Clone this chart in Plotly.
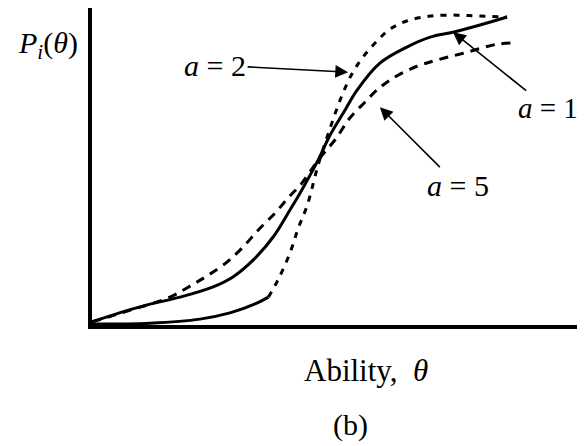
import plotly.graph_objects as go

# item characteristic curves (theta, P)
theta_a1 = [-3.77, -3.30, -2.85, -2.30, -1.75, -1.42, -1.08, -0.75, -0.47, -0.30, 0.0,
            0.20, 0.45, 0.65, 1.03, 1.48, 1.87, 2.25, 2.70, 3.15]
p_a1 = [0.01, 0.04, 0.065, 0.09, 0.123, 0.155, 0.21, 0.284, 0.371, 0.426, 0.532,
        0.613, 0.694, 0.758, 0.845, 0.897, 0.929, 0.945, 0.968, 0.994]

theta_a2 = [-3.77, -2.80, -1.97, -1.47, -1.05, -0.83, -0.67, -0.47, -0.33, -0.18, 0.0,
            0.20, 0.40, 0.58, 0.75, 0.98, 1.20, 1.48, 1.87, 2.32, 2.70, 3.15]
p_a2 = [0.003, 0.006, 0.019, 0.039, 0.068, 0.09, 0.145, 0.232, 0.313, 0.387, 0.516,
        0.635, 0.742, 0.816, 0.865, 0.916, 0.955, 0.981, 0.997, 1.0, 0.997, 0.994]

theta_a5 = [-3.77, -3.13, -2.47, -2.08, -1.83, -1.52, -1.25, -1.0, -0.72, -0.5, -0.27, 0.0,
            0.28, 0.53, 0.78, 0.98, 1.25, 1.65, 1.98, 2.42, 2.98, 3.23]
p_a5 = [0.01, 0.048, 0.09, 0.132, 0.161, 0.203, 0.252, 0.306, 0.361, 0.41, 0.458, 0.532,
        0.597, 0.668, 0.719, 0.758, 0.797, 0.835, 0.855, 0.877, 0.906, 0.91]

labels = ["<i>a</i> = 1", "<i>a</i> = 2", "<i>a</i> = 5"]
split = 6  # lower tail of the a=2 curve is drawn solid

fig = go.Figure()
fig.add_trace(go.Scatter(x=theta_a1, y=p_a1, mode="lines",
                         line=dict(color="black", width=3, shape="spline")))
fig.add_trace(go.Scatter(x=theta_a2[:split], y=p_a2[:split], mode="lines",
                         line=dict(color="black", width=3, shape="spline")))
fig.add_trace(go.Scatter(x=theta_a2[split - 1:], y=p_a2[split - 1:], mode="lines",
                         line=dict(color="black", width=3, dash="6px,7px", shape="spline")))
fig.add_trace(go.Scatter(x=theta_a5, y=p_a5, mode="lines",
                         line=dict(color="black", width=3, dash="9px,7px", shape="spline")))

serif = dict(family="Liberation Serif", color="black")


def pointer(x, y, ax, ay, text, size=30):
    # label placed at (ax, ay) px from the arrow head on the curve
    return dict(x=x, y=y, ax=ax, ay=ay, text=text, showarrow=True, arrowhead=2,
                arrowsize=1.6, arrowwidth=1.6, arrowcolor="black", standoff=0,
                xanchor="center", yanchor="middle", font=dict(size=size, **serif))


def label(x, y, text, size):
    return dict(x=x, y=y, xref="paper", yref="paper", text=text, showarrow=False,
                xanchor="center", yanchor="middle", font=dict(size=size, **serif))


ann = [
    pointer(theta_a1[17], p_a1[17], 95, 76, labels[0], 29),
    pointer(theta_a2[13] - 0.08, p_a2[13], -133, -7, labels[1]),
    pointer(1.03, 0.703, 78, 78, labels[2]),
    label(-0.089, 0.883, "<i>P</i><sub><i>i</i></sub>(<i>θ</i>)", 30),
    label(0.556, -0.142, "Ability,  <i>θ</i>", 31),
    label(0.525, -0.315, "(b)", 30),
]

fig.update_layout(
    width=577, height=438,
    margin=dict(l=84, r=0, t=0, b=121),
    paper_bgcolor="white", plot_bgcolor="white",
    showlegend=False,
    annotations=ann,
    xaxis=dict(range=[-3.77, 4.45], showline=True, linewidth=4, linecolor="black",
               showgrid=False, zeroline=False, showticklabels=False, ticks=""),
    yaxis=dict(range=[0, 1.023], showline=True, linewidth=4, linecolor="black",
               showgrid=False, zeroline=False, showticklabels=False, ticks=""),
)

fig.write_html("out.html")
